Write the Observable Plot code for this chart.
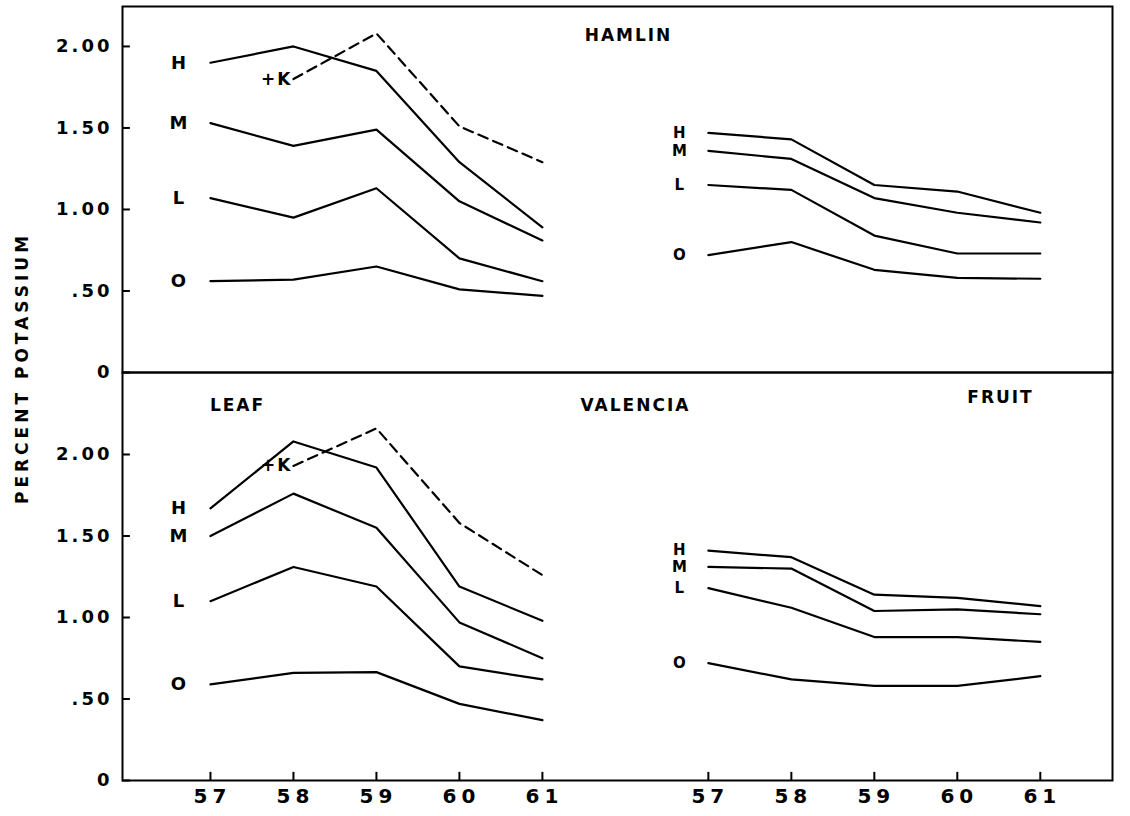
<!DOCTYPE html>
<html><head><meta charset="utf-8">
<script src="https://cdn.jsdelivr.net/npm/d3@7"></script>
<script src="https://cdn.jsdelivr.net/npm/@observablehq/plot@0.6"></script>
<style>
body{margin:0;background:#fff;}
#wrap{position:relative;width:1130px;height:816px;overflow:hidden;font-family:"DejaVu Sans",sans-serif;}
#top,#bottom{position:absolute;left:0;}
#top{top:0}
#bottom{top:364px}
#wrap svg text{font-weight:bold;letter-spacing:2px;}
#wrap svg g[aria-label="y-axis tick label"] text{letter-spacing:3px;}
#wrap svg g[aria-label="x-axis tick label"] text{letter-spacing:5px;}
#ylab{position:absolute;left:22px;top:368px;transform:translate(-50%,-50%) rotate(-90deg);white-space:nowrap;font-weight:bold;font-size:17px;letter-spacing:4px;color:#000;}
</style></head>
<body>
<div id="wrap"><div id="top"></div><div id="bottom"></div><div id="ylab">PERCENT POTASSIUM</div></div>
<script>
// ---- data ----
const years = [57, 58, 59, 60, 61];
const levels = ["H", "M", "L", "O"];
const yTicks = [0, 0.5, 1, 1.5, 2];
const yTickLabels = ["0", ".50", "1.00", "1.50", "2.00"];

// HAMLIN leaf
const hamlinLeafH = [1.90, 2.00, 1.85, 1.29, 0.89];
const hamlinLeafM = [1.53, 1.39, 1.49, 1.05, 0.81];
const hamlinLeafL = [1.07, 0.95, 1.13, 0.70, 0.56];
const hamlinLeafO = [0.56, 0.57, 0.65, 0.51, 0.47];
const hamlinLeafK = [null, 1.80, 2.08, 1.51, 1.29]; // +K, from 58
// HAMLIN fruit
const hamlinFruitH = [1.47, 1.43, 1.15, 1.11, 0.98];
const hamlinFruitM = [1.36, 1.31, 1.07, 0.98, 0.92];
const hamlinFruitL = [1.15, 1.12, 0.84, 0.73, 0.73];
const hamlinFruitO = [0.72, 0.80, 0.63, 0.58, 0.575];
// VALENCIA leaf
const valenciaLeafH = [1.67, 2.08, 1.92, 1.19, 0.98];
const valenciaLeafM = [1.50, 1.76, 1.55, 0.97, 0.75];
const valenciaLeafL = [1.10, 1.31, 1.19, 0.70, 0.62];
const valenciaLeafO = [0.59, 0.66, 0.665, 0.47, 0.37];
const valenciaLeafK = [null, 1.93, 2.16, 1.58, 1.26];
// VALENCIA fruit
const valenciaFruitH = [1.41, 1.37, 1.14, 1.12, 1.07];
const valenciaFruitM = [1.31, 1.30, 1.04, 1.05, 1.02];
const valenciaFruitL = [1.18, 1.06, 0.88, 0.88, 0.85];
const valenciaFruitO = [0.72, 0.62, 0.58, 0.58, 0.64];

// ---- build tables ----
const tissueOffset = {Leaf: 0, Fruit: 6};
const series = {
  Hamlin: {
    Leaf: {H: hamlinLeafH, M: hamlinLeafM, L: hamlinLeafL, O: hamlinLeafO, "+K": hamlinLeafK},
    Fruit: {H: hamlinFruitH, M: hamlinFruitM, L: hamlinFruitL, O: hamlinFruitO}
  },
  Valencia: {
    Leaf: {H: valenciaLeafH, M: valenciaLeafM, L: valenciaLeafL, O: valenciaLeafO, "+K": valenciaLeafK},
    Fruit: {H: valenciaFruitH, M: valenciaFruitM, L: valenciaFruitL, O: valenciaFruitO}
  }
};
function rows(cultivar) {
  const out = [];
  for (const tissue of ["Leaf", "Fruit"]) {
    const s = series[cultivar][tissue];
    for (const level of Object.keys(s)) {
      s[level].forEach((v, i) => {
        if (v == null) return;
        out.push({cultivar, tissue, level, year: years[i], pos: i + tissueOffset[tissue], value: v, key: tissue + level});
      });
    }
  }
  return out;
}
const xTickPos = [];
const xTickLabel = new Map();
for (const tissue of ["Leaf", "Fruit"]) years.forEach((y, i) => { xTickPos.push(i + tissueOffset[tissue]); xTickLabel.set(i + tissueOffset[tissue], String(y)); });
const yLabelMap = new Map(yTicks.map((t, i) => [t, yTickLabels[i]]));

const xDomain = [-1.06, 10.87];
const W = 1130, ML = 122, MR = 18;

function panel(cultivar, opts) {
  const data = rows(cultivar);
  const solid = data.filter(d => d.level !== "+K");
  const kline = data.filter(d => d.level === "+K");
  const firstsLeaf = solid.filter(d => d.year === years[0] && d.tissue === "Leaf");
  const firstsFruit = solid.filter(d => d.year === years[0] && d.tissue === "Fruit");
  const kFirst = kline.slice(0, 1);
  const marks = [
    Plot.frame({stroke: "black", strokeWidth: 2}),
    Plot.ruleY(yTicks, {x1: xDomain[0], x2: xDomain[0] + 0.095, stroke: "black", strokeWidth: 2}),
    Plot.axisY({ticks: yTicks, tickFormat: d => yLabelMap.get(d), tickSize: 0, tickPadding: 10, fontSize: 18, label: null}),
    Plot.line(solid, {x: "pos", y: "value", z: "key", stroke: "black", strokeWidth: 2.2}),
    Plot.line(kline, {x: "pos", y: "value", stroke: "black", strokeWidth: 2.2, strokeDasharray: "10,6"}),
    Plot.text(firstsLeaf, {x: "pos", y: "value", text: "level", dx: -31, fontSize: 18, fill: "black"}),
    Plot.text(firstsFruit, {x: "pos", y: "value", text: "level", dx: -28, fontSize: 15, fill: "black"}),
    Plot.text(kFirst, {x: "pos", y: "value", text: () => "+K", textAnchor: "end", dx: -1, fontSize: 17, fill: "black"}),
    ...opts.titles.map(t => Plot.text([t.text], {frameAnchor: "top-left", dx: t.dx, dy: t.dy, textAnchor: "middle", lineAnchor: "middle", fontSize: 17, fill: "black"}))
  ];
  if (opts.xAxis) {
    marks.push(Plot.ruleX(xTickPos, {y1: 0, y2: 0.05, stroke: "black", strokeWidth: 2}));
    marks.push(Plot.axisX({ticks: xTickPos, tickFormat: d => xTickLabel.get(d), tickSize: 0, tickPadding: 8, fontSize: 20, dx: 2, label: null}));
  }
  return Plot.plot({
    width: W, height: opts.height,
    marginLeft: ML, marginRight: MR, marginTop: opts.mt, marginBottom: opts.mb,
    style: {background: "none", overflow: "visible", fontFamily: "DejaVu Sans", color: "black"},
    x: {domain: xDomain, axis: opts.xAxis ? undefined : null, label: null},
    y: {domain: opts.yDomain, label: null},
    marks
  });
}

document.getElementById("top").append(panel("Hamlin", {
  height: 380, mt: 6, mb: 8, yDomain: [0, 2.245], xAxis: false,
  titles: [{text: "HAMLIN", dx: 506, dy: 29}]
}));
document.getElementById("bottom").append(panel("Valencia", {
  height: 452, mt: 8, mb: 36, yDomain: [0, 2.503], xAxis: true,
  titles: [{text: "LEAF", dx: 115, dy: 33}, {text: "VALENCIA", dx: 513, dy: 33}, {text: "FRUIT", dx: 878, dy: 25}]
}));
</script>
</body></html>
